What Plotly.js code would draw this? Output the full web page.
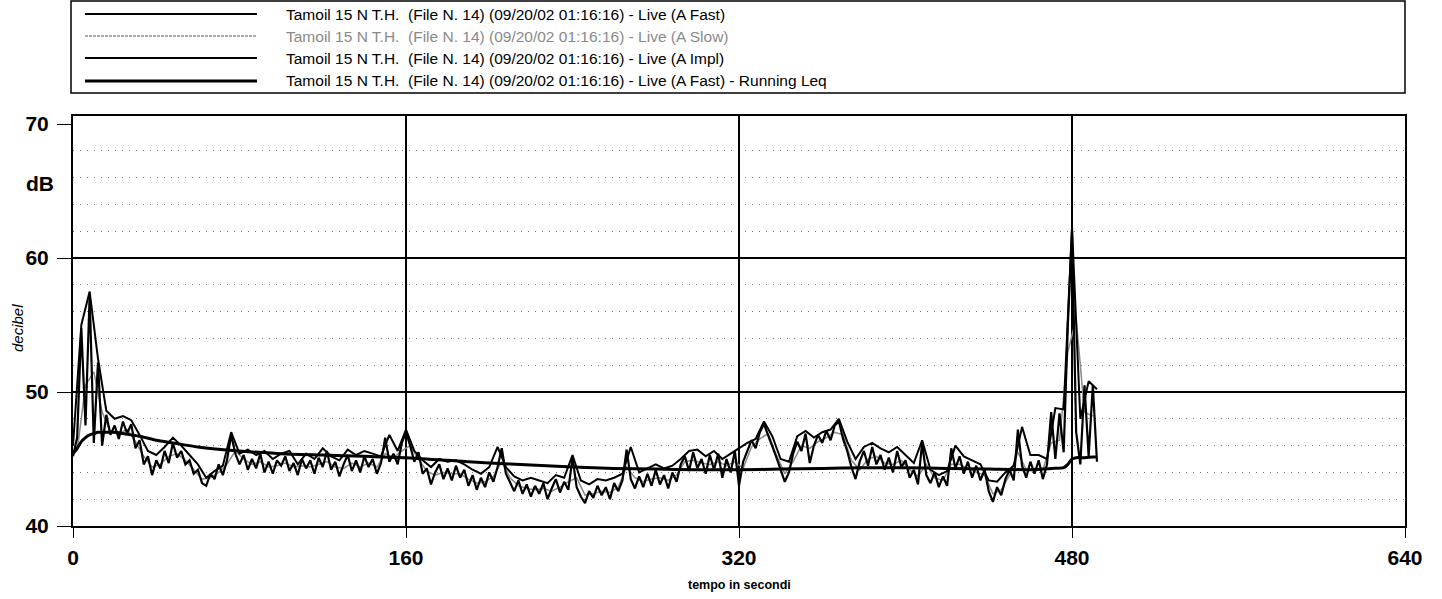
<!DOCTYPE html>
<html>
<head>
<meta charset="utf-8">
<script src="https://cdn.plot.ly/plotly-3.0.1.min.js"></script>
<style>html,body{margin:0;padding:0;background:#fff;}#chart{width:1442px;height:599px;}</style>
</head>
<body>
<div id="chart"></div>
<script>
// ---- data ----
const FAST_T0 = 0, FAST_DT = 2;
const FAST = [
45.2,46.6,54.8,47.5,57.2,46.2,52.2,46.0,48.3,46.8,
47.5,46.5,47.8,46.9,47.6,45.8,46.4,44.6,45.2,43.8,
44.9,44.3,45.6,44.7,46.2,45.1,45.6,44.6,44.9,43.9,
44.2,43.2,43.0,43.9,43.5,44.6,43.8,44.9,46.8,45.4,
44.6,45.3,44.2,45.0,44.3,45.4,44.0,44.8,43.9,44.9,
44.5,45.2,44.1,44.7,43.8,45.0,44.3,44.9,43.9,45.1,
44.4,45.6,44.2,44.8,43.7,44.6,45.3,44.1,44.9,44.0,
45.2,44.4,45.0,43.9,44.7,46.6,44.8,45.4,44.6,46.2,
47.0,46.0,44.8,45.5,43.9,44.3,43.1,44.0,44.6,43.5,
44.3,43.4,44.5,43.6,44.2,43.0,43.8,42.7,43.6,42.9,
44.0,43.3,44.4,45.8,43.9,43.2,42.6,43.4,42.4,43.1,
42.2,43.0,42.4,43.2,42.0,42.8,43.5,42.5,43.3,42.7,
45.1,42.9,42.2,41.7,42.6,42.1,43.0,42.3,42.9,42.0,
43.2,42.6,43.4,45.7,43.5,42.8,43.7,42.9,43.9,43.0,
44.2,43.1,43.8,42.8,44.0,43.3,44.6,45.2,44.1,45.5,
44.3,45.0,43.9,45.3,44.2,45.4,43.6,45.0,44.0,45.6,
43.0,44.8,45.6,46.4,45.8,47.0,47.6,46.8,46.0,45.1,
44.2,43.3,44.0,45.4,46.3,45.6,46.9,44.7,46.0,46.8,
46.2,47.1,46.4,47.5,47.8,46.5,45.6,44.4,43.5,44.8,
45.6,44.5,45.9,44.6,45.3,44.2,45.1,44.0,45.6,44.4,
44.9,43.6,44.2,43.1,46.2,43.8,43.2,44.0,42.9,43.7,
43.0,45.8,44.3,45.2,43.9,44.8,43.6,44.5,43.4,44.2,
42.6,41.8,42.9,42.3,43.5,44.2,43.4,47.2,44.5,43.6,
44.8,43.9,44.9,43.5,44.6,48.5,45.0,48.4,45.5,55.0,
62.0,47.0,44.6,50.5,45.2,50.5,44.8
];

const SLOW_T0 = 2, SLOW_DT = 4;
const SLOW = [
45.6,50.5,51.5,48.5,47.0,46.9,47.2,46.3,45.2,44.4,
44.6,45.2,45.4,44.9,44.2,43.5,43.6,44.0,44.6,45.6,
45.0,44.6,44.8,44.4,44.5,44.7,44.4,44.5,44.4,44.6,
44.8,44.4,44.3,44.7,44.4,44.7,44.4,45.4,45.1,45.6,
46.0,45.0,44.1,43.8,44.0,43.9,43.9,43.5,43.2,43.3,
43.7,44.8,43.6,43.0,42.8,42.7,42.8,42.6,42.9,43.3,
43.6,42.3,42.4,42.6,42.5,42.9,44.4,43.6,43.3,43.5,
43.6,43.4,43.8,44.8,44.9,44.7,44.6,44.8,44.5,44.8,
44.3,45.9,46.5,46.9,45.3,43.9,44.8,46.0,45.8,46.3,
46.6,47.0,46.8,44.9,44.2,45.0,45.2,44.7,44.6,44.9,
44.2,43.7,44.6,43.6,43.4,44.6,44.6,44.3,44.0,43.8,
42.4,42.7,43.8,45.5,44.2,44.3,44.2,46.2,46.4,53.0,
55.5,48.5,48.2
];

const IMPL_T0 = 0, IMPL_DT = 4;
const IMPL = [
46.0,55.0,57.5,52.5,48.6,48.0,48.2,47.9,46.8,45.6,
45.3,45.9,46.6,46.0,45.3,44.6,43.6,44.1,44.5,47.0,
45.4,45.7,45.3,45.6,45.0,45.4,45.6,44.6,45.4,45.0,
45.8,45.2,44.9,45.7,45.3,45.6,45.4,45.2,46.8,45.6,
47.2,45.6,44.9,44.4,45.0,44.8,44.9,44.6,44.2,43.9,
44.4,45.9,44.4,43.7,43.4,43.6,43.4,43.2,43.8,43.6,
45.3,43.4,43.1,43.5,43.4,43.6,43.9,45.9,44.0,44.3,
44.6,44.3,44.5,45.0,45.6,45.7,45.2,45.6,45.0,45.4,
45.8,46.2,46.5,47.8,46.7,45.0,44.8,46.7,47.1,46.6,
47.0,47.2,48.0,46.3,45.0,45.9,46.2,45.8,45.5,45.9,
45.3,44.7,46.4,44.2,43.8,44.1,46.0,45.2,44.9,44.6,
43.4,43.3,44.0,44.5,47.4,45.3,45.3,45.0,48.8,48.7,
62.3,48.0,50.8,50.2
];

const LEQ_T = [0,2,4,6,8,10,12,14,16,20,24,28,32,40,48,60,80,100,120,140,160,180,200,220,240,260,280,300,320,340,360,380,400,420,440,460,470,476,478,480,482,486,490,492];
const LEQ   = [45.4,45.8,46.3,46.6,46.8,46.9,47.0,47.0,47.0,47.0,46.9,46.8,46.7,46.4,46.2,45.9,45.6,45.4,45.3,45.2,45.1,44.9,44.7,44.55,44.4,44.3,44.25,44.2,44.2,44.25,44.3,44.35,44.35,44.3,44.25,44.2,44.3,44.35,44.6,45.0,45.1,45.1,45.15,45.15];

const LEGEND_LABELS = [
  'Tamoil 15 N T.H.\u00a0 (File N. 14) (09/20/02 01:16:16) - Live (A Fast)',
  'Tamoil 15 N T.H.\u00a0 (File N. 14) (09/20/02 01:16:16) - Live (A Slow)',
  'Tamoil 15 N T.H.\u00a0 (File N. 14) (09/20/02 01:16:16) - Live (A Impl)',
  'Tamoil 15 N T.H.\u00a0 (File N. 14) (09/20/02 01:16:16) - Live (A Fast) - Running Leq'
];
const X_TITLE = 'tempo in secondi';
const Y_TITLE = 'decibel';
const Y_UNIT = 'dB';

// ---- styling / geometry ----
const W = 1442, H = 599, ML = 73, MR = 37, MT = 116, MB = 73;
const PW = W - ML - MR, PH = H - MT - MB;
const px = x => (x - ML) / PW;
const py = y => (H - MB - y) / PH;
const SANS = '"Liberation Sans", Arial, sans-serif';

const COLORS = ['#000000', '#8a8a8a', '#000000', '#000000'];
const WIDTHS = [2.2, 1.5, 2.0, 3];

const traces = [
  {type:'scatter', mode:'lines', name:LEGEND_LABELS[1], x0:SLOW_T0, dx:SLOW_DT, y:SLOW,
   line:{color:COLORS[1], width:WIDTHS[1]}, hoverinfo:'skip'},
  {type:'scatter', mode:'lines', name:LEGEND_LABELS[0], x0:FAST_T0, dx:FAST_DT, y:FAST,
   line:{color:COLORS[0], width:WIDTHS[0]}, hoverinfo:'skip'},
  {type:'scatter', mode:'lines', name:LEGEND_LABELS[2], x0:IMPL_T0, dx:IMPL_DT, y:IMPL,
   line:{color:COLORS[2], width:WIDTHS[2]}, hoverinfo:'skip'},
  {type:'scatter', mode:'lines', name:LEGEND_LABELS[3], x:LEQ_T, y:LEQ, yaxis:'y2',
   line:{color:COLORS[3], width:WIDTHS[3], shape:'spline', smoothing:0.6}, hoverinfo:'skip'}
];

// legend drawn manually (box, long line samples, text)
const LEG = {left:71, right:1405, top:1, bottom:93, rows:[14,36,58,81], lineX0:85, lineX1:257, textX:284};
const shapes = [
  {type:'rect', xref:'paper', yref:'paper', x0:px(LEG.left), x1:px(LEG.right), y0:py(LEG.bottom), y1:py(LEG.top),
   line:{color:'#000', width:1.5}, fillcolor:'rgba(0,0,0,0)'}
];
const annotations = [];
LEGEND_LABELS.forEach((lab, i) => {
  shapes.push({type:'line', xref:'paper', yref:'paper', x0:px(LEG.lineX0), x1:px(LEG.lineX1),
    y0:py(LEG.rows[i]), y1:py(LEG.rows[i]),
    line:{color: i===1 ? '#555' : COLORS[i], width: i===3 ? 3 : (i===1 ? 1.2 : 2), dash: i===1 ? '3px,1px' : 'solid'}});
  annotations.push({xref:'paper', yref:'paper', x:px(LEG.textX), y:py(LEG.rows[i]), xanchor:'left', yanchor:'middle',
    text:lab, showarrow:false, font:{family:SANS, size:15.5, color: i===1 ? '#8a8a8a' : '#000'}});
});
annotations.push({xref:'paper', yref:'paper', x:px(40), y:py(183), xanchor:'center', yanchor:'middle',
  text:Y_UNIT, showarrow:false, font:{family:SANS, size:21, color:'#000', weight:'bold'}});
annotations.push({xref:'paper', yref:'paper', x:px(17), y:py(328), xanchor:'center', yanchor:'middle',
  text:'<i>'+Y_TITLE+'</i>', textangle:-90, showarrow:false, font:{family:SANS, size:15, color:'#000'}});
annotations.push({xref:'paper', yref:'paper', x:px(739), y:py(585), xanchor:'center', yanchor:'middle',
  text:X_TITLE, showarrow:false, font:{family:SANS, size:12.5, color:'#000', weight:'bold'}});

const tickFont = {family:SANS, size:21, color:'#000', weight:'bold'};
const layout = {
  width:W, height:H, margin:{l:ML, r:MR, t:MT, b:MB, pad:0},
  paper_bgcolor:'#fff', plot_bgcolor:'#fff', showlegend:false,
  xaxis:{range:[0,640], tickmode:'linear', tick0:0, dtick:160, showgrid:true, gridcolor:'#000', gridwidth:2,
    zeroline:false, showline:true, mirror:true, linecolor:'#000', linewidth:2,
    ticks:'outside', ticklen:10, tickwidth:1, tickcolor:'#000', tickfont:tickFont, ticklabelstandoff:2, fixedrange:true},
  yaxis:{range:[40,70.6], tickmode:'linear', tick0:40, dtick:10, showgrid:false,
    zeroline:false, showline:true, mirror:true, linecolor:'#000', linewidth:2,
    ticks:'outside', ticklen:14, tickwidth:1, tickcolor:'#000', tickfont:tickFont, ticklabelstandoff:4, fixedrange:true,
    minor:{tick0:40, dtick:2, showgrid:true, gridcolor:'#777', gridwidth:1, griddash:'1px,6px', ticks:''}},
  yaxis2:{overlaying:'y', range:[40,70.6], tickmode:'array', tickvals:[50,60], showgrid:true, gridcolor:'#000', gridwidth:2,
    showticklabels:false, ticks:'', showline:false, zeroline:false, fixedrange:true},
  shapes:shapes, annotations:annotations
};
Plotly.newPlot('chart', traces, layout, {staticPlot:true, displayModeBar:false});
</script>
</body>
</html>
